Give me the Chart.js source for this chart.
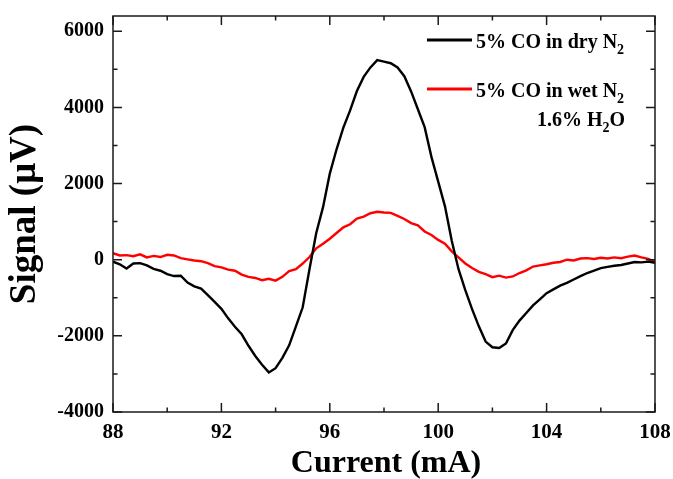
<!DOCTYPE html>
<html>
<head>
<meta charset="utf-8">
<script src="https://cdn.jsdelivr.net/npm/chart.js@4.4.1/dist/chart.umd.min.js"></script>
<style>
    html, body { margin: 0; padding: 0; background: #fff; }
</style>
</head>
<body>
<canvas id="signalChart" width="673" height="479"></canvas>
<script>
// Laser current sweep (mA)
const current = [
    88.00, 88.25, 88.50, 88.75, 89.00, 89.25, 89.50, 89.75, 90.00, 90.25,
    90.50, 90.75, 91.00, 91.25, 91.50, 91.75, 92.00, 92.25, 92.50, 92.75,
    93.00, 93.25, 93.50, 93.75, 94.00, 94.25, 94.50, 94.75, 95.00, 95.25,
    95.50, 95.75, 96.00, 96.25, 96.50, 96.75, 97.00, 97.25, 97.50, 97.75,
    98.00, 98.25, 98.50, 98.75, 99.00, 99.25, 99.50, 99.75, 100.00, 100.25,
    100.50, 100.75, 101.00, 101.25, 101.50, 101.75, 102.00, 102.25, 102.50, 102.75,
    103.00, 103.25, 103.50, 103.75, 104.00, 104.25, 104.50, 104.75, 105.00, 105.25,
    105.50, 105.75, 106.00, 106.25, 106.50, 106.75, 107.00, 107.25, 107.50, 107.75,
    108.00
];

// 5% CO in dry N2 (µV)
const drySignal = [
    -50, -120, -230, -100, -90, -150, -240, -290, -380, -430,
    -420, -600, -700, -760, -930, -1110, -1290, -1540, -1760, -1960,
    -2260, -2530, -2760, -2960, -2850, -2580, -2250, -1750, -1250, -250,
    700, 1380, 2260, 2900, 3470, 3920, 4430, 4800, 5050, 5240,
    5200, 5160, 5050, 4820, 4420, 3950, 3480, 2700, 2050, 1400,
    500, -250, -800, -1300, -1750, -2150, -2300, -2320, -2200, -1850,
    -1600, -1400, -1200, -1040, -880, -780, -680, -610, -520, -430,
    -350, -290, -220, -190, -160, -140, -100, -60, -70, -50,
    -80
];

// 5% CO in wet N2, 1.6% H2O (µV)
const wetSignal = [
    170, 110, 120, 90, 140, 60, 100, 70, 130, 110,
    40, 10, -20, -40, -90, -170, -200, -260, -290, -390,
    -450, -480, -540, -500, -550, -450, -300, -250, -100, 70,
    300, 420, 550, 700, 850, 930, 1080, 1130, 1220, 1260,
    1240, 1230, 1150, 1070, 960, 900, 740, 650, 520, 420,
    220, 60, -100, -220, -320, -380, -460, -420, -470, -440,
    -350, -280, -180, -150, -120, -80, -60, 0, -20, 30,
    40, 20, 50, 30, 60, 40, 80, 110, 60, 20,
    -60
];

const seriesLabels = ['5% CO in dry N₂', '5% CO in wet N₂'];
const seriesColors = ['#000000', '#ff0000'];
const noteText = '1.6% H₂O';
const xTitle = 'Current (mA)';
const yTitle = 'Signal (μV)';
const xMajor = [88, 92, 96, 100, 104, 108];
const xMinor = [90, 94, 98, 102, 106];
const yMajor = [-4000, -2000, 0, 2000, 4000, 6000];
const yMinor = [-3000, -1000, 1000, 3000, 5000];

const FONT = "'Liberation Serif', 'Times New Roman', serif";

// draw text where '₂' is rendered as a real subscript
function drawRich(ctx, text, x, y, size) {
    let cx = x;
    for (const ch of text) {
        if (ch === '₂') {
            ctx.font = 'bold ' + Math.round(size * 0.7) + 'px ' + FONT;
            ctx.fillText('2', cx, y + size * 0.3);
            cx += ctx.measureText('2').width;
        } else {
            ctx.font = 'bold ' + size + 'px ' + FONT;
            ctx.fillText(ch, cx, y);
            cx += ctx.measureText(ch).width;
        }
    }
}

const frameAndLegend = {
    id: 'frameAndLegend',
    afterDatasetsDraw(chart) {
        const ctx = chart.ctx;
        const area = chart.chartArea;
        const xs = chart.scales.x;
        const ys = chart.scales.y;

        ctx.save();
        ctx.strokeStyle = '#1a1a1a';
        ctx.lineWidth = 1.5;
        ctx.strokeRect(area.left, area.top, area.right - area.left, area.bottom - area.top);

        // inward ticks on all four sides
        ctx.beginPath();
        const tick = (vals, len, isX) => {
            vals.forEach(v => {
                if (isX) {
                    const px = xs.getPixelForValue(v);
                    ctx.moveTo(px, area.bottom); ctx.lineTo(px, area.bottom - len);
                    ctx.moveTo(px, area.top); ctx.lineTo(px, area.top + len);
                } else {
                    const py = ys.getPixelForValue(v);
                    ctx.moveTo(area.left, py); ctx.lineTo(area.left + len, py);
                    ctx.moveTo(area.right, py); ctx.lineTo(area.right - len, py);
                }
            });
        };
        tick(xMajor, 9, true);
        tick(xMinor, 4.5, true);
        tick(yMajor, 9, false);
        tick(yMinor, 4.5, false);
        ctx.stroke();

        // legend
        ctx.fillStyle = '#000';
        ctx.textBaseline = 'alphabetic';
        ctx.textAlign = 'left';
        const legendY = [40, 89];
        chart.data.datasets.forEach((ds, i) => {
            ctx.strokeStyle = ds.borderColor;
            ctx.lineWidth = 3;
            ctx.beginPath();
            ctx.moveTo(427, legendY[i]);
            ctx.lineTo(472, legendY[i]);
            ctx.stroke();
            drawRich(ctx, ds.label, 476, legendY[i] + 8, 20);
        });
        drawRich(ctx, noteText, 537, 126, 20);

        // axis titles
        ctx.font = 'bold 32px ' + FONT;
        ctx.textAlign = 'center';
        ctx.fillText(xTitle, (area.left + area.right) / 2 + 2, 472);
        ctx.translate(35, (area.top + area.bottom) / 2);
        ctx.rotate(-Math.PI / 2);
        ctx.font = 'bold 37px ' + FONT;
        ctx.fillText(yTitle, 0, 0);
        ctx.restore();
    }
};

const ctx = document.getElementById('signalChart').getContext('2d');
new Chart(ctx, {
    type: 'line',
    data: {
        datasets: [
            {
                label: seriesLabels[0],
                data: current.map((c, i) => ({ x: c, y: drySignal[i] })),
                borderColor: seriesColors[0],
                borderWidth: 2.4,
                pointRadius: 0,
                tension: 0
            },
            {
                label: seriesLabels[1],
                data: current.map((c, i) => ({ x: c, y: wetSignal[i] })),
                borderColor: seriesColors[1],
                borderWidth: 2.4,
                pointRadius: 0,
                tension: 0
            }
        ]
    },
    options: {
        responsive: false,
        animation: false,
        devicePixelRatio: 1,
        layout: { padding: { top: 16, right: 18, left: 0, bottom: 0 } },
        plugins: {
            legend: { display: false },
            tooltip: { enabled: false }
        },
        scales: {
            x: {
                type: 'linear',
                min: 88,
                max: 108,
                grid: { display: false, drawTicks: false },
                border: { display: false },
                afterBuildTicks: scale => { scale.ticks = xMajor.map(v => ({ value: v })); },
                afterFit: scale => {
                    scale.height = 67;
                    scale.paddingLeft = 0;
                    scale.paddingRight = 0;
                },
                ticks: {
                    color: '#000',
                    padding: 8,
                    maxRotation: 0,
                    callback: v => String(v),
                    font: { family: FONT, size: 21, weight: 'bold' }
                }
            },
            y: {
                type: 'linear',
                min: -4000,
                max: 6400,
                grid: { display: false, drawTicks: false },
                border: { display: false },
                afterBuildTicks: scale => { scale.ticks = yMajor.map(v => ({ value: v })); },
                afterFit: scale => {
                    scale.width = 113;
                    scale.paddingTop = 0;
                    scale.paddingBottom = 0;
                },
                ticks: {
                    color: '#000',
                    padding: 9,
                    callback: v => String(v),
                    font: { family: FONT, size: 20, weight: 'bold' }
                }
            }
        }
    },
    plugins: [frameAndLegend]
});
</script>
</body>
</html>
